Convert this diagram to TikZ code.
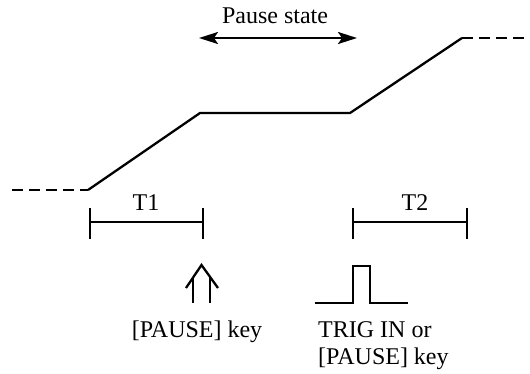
\documentclass[tikz,border=0pt]{standalone}
\usepackage{fontspec}
\setmainfont{Liberation Serif}
\usetikzlibrary{arrows.meta}
\begin{document}
\begin{tikzpicture}[x=1pt,y=-1pt,
  wave/.style={line width=2.3pt,line join=miter},
  dashwave/.style={line width=2.3pt,dash pattern=on 11pt off 6pt},
  bar/.style={line width=2.3pt},
  lbl/.style={font=\fontsize{24}{28}\selectfont,anchor=base,inner sep=0pt},
  lblw/.style={font=\fontsize{24}{28}\selectfont,anchor=base west,inner sep=0pt}]
\useasboundingbox (0,0) rectangle (530,373);
% waveform
\coordinate (d0) at (12,190);
\coordinate (a) at (88,190);
\coordinate (b) at (200,113);
\coordinate (c) at (350,113);
\coordinate (d) at (462,38);
\coordinate (d1) at (532,38);
\draw[dashwave] (d0) -- (a);
\draw[wave] (a) -- (b) -- (c) -- (d);
\draw[dashwave] (d) -- (d1);
% pause state
\node[lbl] (ps) at (275,23) {Pause state};
\coordinate (pl) at (199,38);
\coordinate (pr) at (357,38);
\draw[line width=2.2pt,{Stealth[length=19pt,width=12pt,inset=4pt]}-{Stealth[length=19pt,width=12pt,inset=4pt]}] (pl) -- (pr);
% T1 bracket
\coordinate (t1l) at (90,222);
\coordinate (t1r) at (203,222);
\draw[bar] (t1l) -- (t1r);
\draw[bar] ([yshift=-17pt]t1l) -- ([yshift=14pt]t1l);
\draw[bar] ([yshift=-17pt]t1r) -- ([yshift=14pt]t1r);
\node[lbl] (T1) at (146,210) {T1};
% T2 bracket
\coordinate (t2l) at (353,222);
\coordinate (t2r) at (467,222);
\draw[bar] (t2l) -- (t2r);
\draw[bar] ([yshift=-17pt]t2l) -- ([yshift=14pt]t2l);
\draw[bar] ([yshift=-17pt]t2r) -- ([yshift=14pt]t2r);
\node[lbl] (T2) at (415,210) {T2};
% double up arrow
\draw[bar,line join=miter] (186,288) -- (201.5,265) -- (218,288);
\draw[bar] (193,277) -- (193,303);
\draw[bar] (210,277) -- (210,303);
\node[lbl] (pk1) at (197,337) {[PAUSE] key};
% pulse
\draw[wave] (315,303) -- (353,303) -- (353,266) -- (370,266) -- (370,303) -- (408,303);
\node[lblw] (trig) at (318,337) {TRIG IN or};
\node[lblw] (pk2) at (318,364) {[PAUSE] key};
\end{tikzpicture}
\end{document}
